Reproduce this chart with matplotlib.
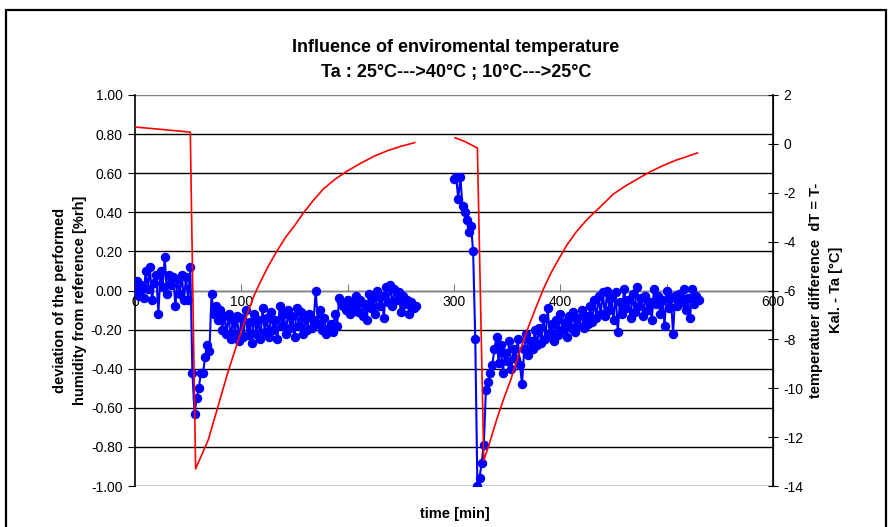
import matplotlib
matplotlib.use('Agg')

import matplotlib.pyplot as plt
import numpy as np
from matplotlib.patches import Rectangle

plt.rcParams['font.family'] = ['Liberation Sans', 'DejaVu Sans']

## deviation [%rh], sampled every 2 min
dev_start_1 = 0
dev_1 = [0.00, 0.05, -0.03, 0.03, -0.04, 0.10, 0.01, 0.12, -0.05, 0.04,
         0.08, -0.12, 0.10, 0.02, 0.17, -0.02, 0.08, 0.03, 0.07, -0.08,
         0.06, -0.02, 0.08, -0.05, 0.07, -0.05, 0.12, -0.42, -0.63, -0.55,
         -0.50, -0.42, -0.42, -0.34, -0.28, -0.31,
         -0.02, -0.12, -0.08, -0.15, -0.10, -0.20, -0.13, -0.22, -0.12, -0.25,
         -0.15, -0.22, -0.13, -0.26, -0.14, -0.24, -0.10, -0.23, -0.16, -0.27,
         -0.12, -0.22, -0.15, -0.25, -0.09, -0.21, -0.14, -0.24, -0.11, -0.20,
         -0.15, -0.25, -0.08, -0.18, -0.12, -0.22, -0.10, -0.19, -0.13, -0.24,
         -0.09, -0.18, -0.11, -0.22, -0.14, -0.20, -0.12, -0.19, -0.15, 0.00,
         -0.17, -0.10, -0.20, -0.14, -0.22, -0.19, -0.17, -0.21, -0.12, -0.18,
         -0.04, -0.06, -0.08, -0.10, -0.05, -0.12, -0.06, -0.09, -0.03, -0.11,
         -0.05, -0.13, -0.07, -0.15, -0.02, -0.09, -0.04, -0.12, 0.00, -0.08,
         -0.03, -0.14, 0.02, -0.06, 0.03, -0.08, 0.01, -0.05, -0.01, -0.11,
         -0.03, -0.07, -0.05, -0.12, -0.06, -0.09, -0.08]
dev_start_2 = 300
dev_2 = [0.57, 0.58, 0.47, 0.58, 0.43, 0.40, 0.36, 0.30, 0.33, 0.20,
         -0.25, -1.00, -0.96, -0.88, -0.79, -0.51, -0.47, -0.42, -0.38, -0.30,
         -0.24, -0.37, -0.28, -0.42, -0.32, -0.36, -0.26, -0.40, -0.30, -0.35,
         -0.25, -0.38, -0.48, -0.30, -0.22, -0.33, -0.26, -0.30, -0.20, -0.28,
         -0.19, -0.27, -0.14, -0.25, -0.09, -0.22, -0.17, -0.26, -0.15, -0.23,
         -0.12, -0.20, -0.16, -0.24, -0.13, -0.19, -0.11, -0.21, -0.14, -0.18,
         -0.10, -0.19, -0.13, -0.17, -0.08, -0.16, -0.05, -0.14, -0.03, -0.12,
         -0.01, -0.13, 0.00, -0.10, -0.04, -0.15, -0.01, -0.21, -0.06, -0.12,
         0.01, -0.09, -0.05, -0.14, -0.02, -0.11, 0.02, -0.08, -0.04, -0.13,
         -0.03, -0.10, -0.06, -0.15, 0.01, -0.07, -0.03, -0.12, -0.05, -0.18,
         0.00, -0.09, -0.04, -0.22, -0.03, -0.08, -0.02, -0.06, 0.01, -0.10,
         -0.04, -0.14, 0.01, -0.07, -0.03, -0.05]

## temperature difference dT [°C]
dt_time_1 = [0, 10, 20, 30, 40, 52, 57, 60, 64, 69, 75, 81, 87, 94, 100, 106, 112,
             119, 126, 134, 142, 150, 158, 167, 177, 188, 200, 212, 225, 238, 250, 263]
dt_1 = [0.69, 0.65, 0.61, 0.57, 0.53, 0.48, -13.3, -13.0, -12.6, -12.1, -11.2, -10.3,
        -9.4, -8.45, -7.65, -6.9, -6.2, -5.55, -4.95, -4.35, -3.8, -3.35, -2.85, -2.35,
        -1.85, -1.45, -1.1, -0.8, -0.5, -0.27, -0.1, 0.05]
dt_time_2 = [301, 310, 322, 328, 333, 340, 347, 353, 360, 369, 377, 384, 391, 398, 406,
             415, 425, 437, 450, 462, 474, 484, 496, 508, 519, 529]
dt_2 = [0.25, 0.1, -0.17, -12.95, -12.3, -11.3, -10.4, -9.7, -8.75, -7.6, -6.7, -5.95,
        -5.3, -4.75, -4.15, -3.6, -3.1, -2.6, -2.05, -1.7, -1.4, -1.15, -0.9, -0.68,
        -0.52, -0.37]

x_ticks = [0, 100, 200, 300, 400, 500, 600]
left_ticks = [-1.0, -0.8, -0.6, -0.4, -0.2, 0.0, 0.2, 0.4, 0.6, 0.8, 1.0]
right_ticks = [-14, -12, -10, -8, -6, -4, -2, 0, 2]

fig = plt.figure(figsize=(8.91, 5.27), dpi=100)
ax = fig.add_axes([135/891, 1-486/527, 638/891, 391/527])

t1 = dev_start_1 + 2*np.arange(len(dev_1))
t2 = dev_start_2 + 2*np.arange(len(dev_2))
for t, d in [(t1, dev_1), (t2, dev_2)]:
    ax.plot(t, d, color='#0000FF', lw=1.5, marker='o', ms=5.8, zorder=3)

ax.set_xlim(0, 600)
ax.set_ylim(-1, 1)
ax.set_yticks(left_ticks)
ax.set_yticklabels(['%.2f' % v for v in left_ticks], fontsize=10)
ax.set_xticks(x_ticks)
ax.set_xticklabels([str(v) for v in x_ticks], fontsize=10)
ax.yaxis.grid(True, color='black', lw=1.0)
ax.set_axisbelow(True)
ax.get_ygridlines()[-1].set_color('#808080')

ax.spines['top'].set_visible(False)
ax.spines['bottom'].set_position(('data', 0))
ax.spines['bottom'].set_color('#808080')
ax.spines['left'].set_linewidth(1.2)
ax.tick_params(axis='x', direction='in', length=5, pad=3, color='#808080')
ax.tick_params(axis='y', direction='out', length=5, pad=4)

ax2 = ax.twinx()
ax2.plot(dt_time_1, dt_1, color='#FF0000', lw=1.2)
ax2.plot(dt_time_2, dt_2, color='#FF0000', lw=1.2)
ax2.set_ylim(-14, 2)
ax2.set_yticks(right_ticks)
ax2.set_yticklabels([str(v) for v in right_ticks], fontsize=10)
ax2.tick_params(axis='y', direction='inout', length=7, pad=4)
for s in ['top', 'bottom', 'left']:
    ax2.spines[s].set_visible(False)
ax2.spines['right'].set_linewidth(1.2)

fig.text(456/891, 1-47/527, 'Influence of enviromental temperature',
         ha='center', va='center', fontsize=13, fontweight='bold')
fig.text(456/891, 1-72/527, 'Ta : 25°C--->40°C ; 10°C--->25°C',
         ha='center', va='center', fontsize=13, fontweight='bold')
fig.text(70/891, 1-300/527, 'deviation of the performed\nhumidity from reference [%rh]',
         rotation=90, ha='center', va='center', fontsize=10.5, fontweight='bold',
         multialignment='center', linespacing=1.55)
fig.text(826/891, 1-290/527, 'temperatuer difference  dT = T-\nKal. - Ta [°C]',
         rotation=90, ha='center', va='center', fontsize=10.5, fontweight='bold',
         multialignment='center', linespacing=1.5)
fig.text(455/891, 1-514/527, 'time [min]', ha='center', va='center',
         fontsize=10.5, fontweight='bold')

fig.add_artist(Rectangle((5.5/891, -0.1), 880/891, 1.1 - 10/527, transform=fig.transFigure,
                         fill=False, edgecolor='black', lw=1.6, clip_on=False))

plt.savefig('out.png', dpi=100)
